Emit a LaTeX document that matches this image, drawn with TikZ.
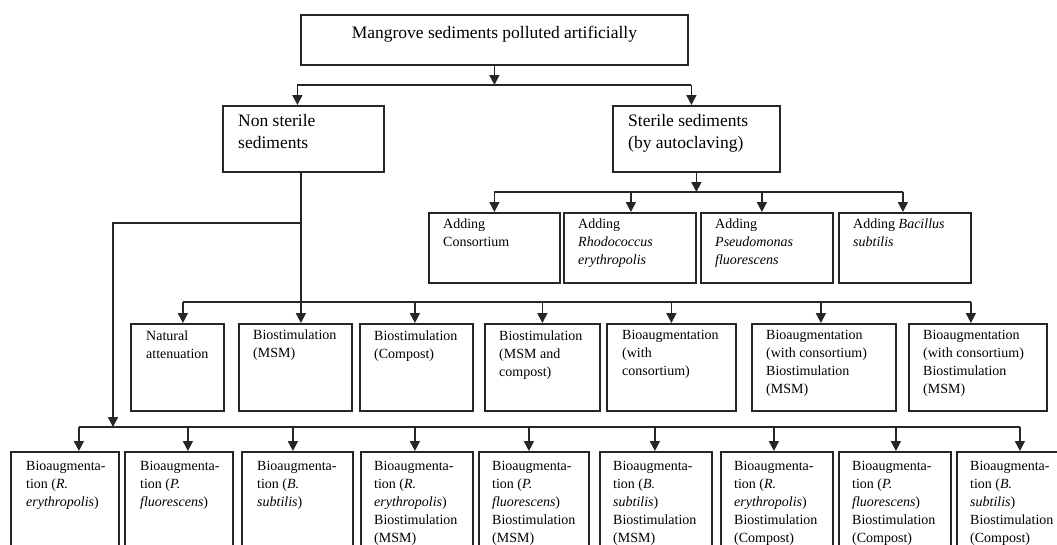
\documentclass[tikz,border=0pt]{standalone}
\usepackage{fontspec}
\setmainfont{Liberation Serif}
\usetikzlibrary{arrows.meta}
\tikzset{
  box/.style={draw=black!85, line width=1.8pt, rectangle, inner sep=0pt, anchor=north west},
  lbl/.style={anchor=north west, inner sep=0pt, align=left, font=\fontsize{14}{18}\selectfont, execute at begin node=\strut},
  big/.style={anchor=north west, inner sep=0pt, align=left, font=\fontsize{17.5}{22}\selectfont, execute at begin node=\strut},
  con/.style={draw=black!85, line width=1.6pt},
  arr/.style={con, -{Triangle[width=10pt,length=10pt]}},
}
\newcommand\mkbox[5]{\node[box, minimum width={#4-#2}, minimum height={#5-#3}] (#1) at (#2,#3) {};}
\begin{document}
\begin{tikzpicture}[x=1pt,y=-1pt]
\clip (0,0) rectangle (1057,544);
\fill[white] (0,0) rectangle (1057,544);
% boxes
\mkbox{top}{300}{14}{687}{64}
\mkbox{ns}{222}{105}{383}{171}
\mkbox{st}{612}{105}{779}{171}
\mkbox{a1}{428}{212}{559}{282}
\mkbox{a2}{563}{212}{695}{282}
\mkbox{a3}{700}{212}{832}{282}
\mkbox{a4}{838}{212}{970}{282}
\mkbox{m1}{130}{323}{223}{410}
\mkbox{m2}{238}{323}{351}{410}
\mkbox{m3}{359}{323}{472}{410}
\mkbox{m4}{484}{323}{599}{410}
\mkbox{m5}{606}{323}{735}{410}
\mkbox{m6}{751}{323}{895}{410}
\mkbox{m7}{908}{323}{1046}{410}
\mkbox{b1}{10}{451}{118}{575}
\mkbox{b2}{124}{451}{232}{575}
\mkbox{b3}{241}{451}{352}{575}
\mkbox{b4}{360}{451}{472}{575}
\mkbox{b5}{478}{451}{588}{575}
\mkbox{b6}{599}{451}{711}{575}
\mkbox{b7}{720}{451}{832}{575}
\mkbox{b8}{838}{451}{950}{575}
\mkbox{b9}{956}{451}{1066}{575}
% texts
\node[anchor=base, inner sep=0pt, font=\fontsize{17.5}{22}\selectfont] (ttop) at ([yshift=-24pt]top.north) {Mangrove sediments polluted artificially};
\node[big] (tns) at ([shift={(16,9.6)}]ns.north west) {Non sterile\\sediments};
\node[big] (tst) at ([shift={(16,9)}]st.north west) {Sterile sediments\\(by autoclaving)};
\node[lbl] (ta1) at ([shift={(15,7)}]a1.north west) {Adding\\Consortium};
\node[lbl] (ta2) at ([shift={(15,7)}]a2.north west) {Adding\\\textit{Rhodococcus}\\\textit{erythropolis}};
\node[lbl] (ta3) at ([shift={(15,7)}]a3.north west) {Adding\\\textit{Pseudomonas}\\\textit{fluorescens}};
\node[lbl] (ta4) at ([shift={(15,7)}]a4.north west) {Adding \textit{Bacillus}\\\textit{subtilis}};
\node[lbl] (tm1) at ([shift={(16,7.4)}]m1.north west) {Natural\\attenuation};
\node[lbl] (tm2) at ([shift={(15,6.4)}]m2.north west) {Biostimulation\\(MSM)};
\node[lbl] (tm3) at ([shift={(15,7.4)}]m3.north west) {Biostimulation\\(Compost)};
\node[lbl] (tm4) at ([shift={(15,7.4)}]m4.north west) {Biostimulation\\(MSM and\\compost)};
\node[lbl] (tm5) at ([shift={(16,7.4)}]m5.north west) {Bioaugmentation\\(with\\consortium)};
\node[lbl] (tm6) at ([shift={(15,7.4)}]m6.north west) {Bioaugmentation\\(with consortium)\\Biostimulation\\(MSM)};
\node[lbl] (tm7) at ([shift={(15,7.4)}]m7.north west) {Bioaugmentation\\(with consortium)\\Biostimulation\\(MSM)};
\node[lbl] (tb1) at ([shift={(16,10)}]b1.north west) {Bioaugmenta-\\tion (\textit{R.}\\\textit{erythropolis})};
\node[lbl] (tb2) at ([shift={(16,10)}]b2.north west) {Bioaugmenta-\\tion (\textit{P.}\\\textit{fluorescens})};
\node[lbl] (tb3) at ([shift={(16,10)}]b3.north west) {Bioaugmenta-\\tion (\textit{B.}\\\textit{subtilis})};
\node[lbl] (tb4) at ([shift={(14,10)}]b4.north west) {Bioaugmenta-\\tion (\textit{R.}\\\textit{erythropolis})\\Biostimulation\\(MSM)};
\node[lbl] (tb5) at ([shift={(14,10)}]b5.north west) {Bioaugmenta-\\tion (\textit{P.}\\\textit{fluorescens})\\Biostimulation\\(MSM)};
\node[lbl] (tb6) at ([shift={(14,10)}]b6.north west) {Bioaugmenta-\\tion (\textit{B.}\\\textit{subtilis})\\Biostimulation\\(MSM)};
\node[lbl] (tb7) at ([shift={(14,10)}]b7.north west) {Bioaugmenta-\\tion (\textit{R.}\\\textit{erythropolis})\\Biostimulation\\(Compost)};
\node[lbl] (tb8) at ([shift={(14,10)}]b8.north west) {Bioaugmenta-\\tion (\textit{P.}\\\textit{fluorescens})\\Biostimulation\\(Compost)};
\node[lbl] (tb9) at ([shift={(14,10)}]b9.north west) {Bioaugmenta-\\tion (\textit{B.}\\\textit{subtilis})\\Biostimulation\\(Compost)};
% bus levels
\coordinate (bus1) at (0,85);
\coordinate (bus2) at (0,192);
\coordinate (bus3) at (0,302);
\coordinate (bus4) at (0,223);
\coordinate (bus5) at (0,427);
\coordinate (k) at (113,223);
% arrow entry points
\coordinate (nsA) at ([xshift=-6pt]ns.north);
\coordinate (nsB) at ([xshift=-2.5pt]ns.south);
\coordinate (stA) at ([xshift=-5pt]st.north);
\coordinate (a1A) at (a1.north);
\coordinate (a2A) at ([xshift=1pt]a2.north);
\coordinate (a3A) at ([xshift=-5pt]a3.north);
\coordinate (a4A) at ([xshift=-2pt]a4.north);
\coordinate (m1A) at ([xshift=5.5pt]m1.north);
\coordinate (m3A) at ([xshift=-1.5pt]m3.north);
\coordinate (m4A) at (m4.north);
\coordinate (m5A) at (m5.north);
\coordinate (m6A) at ([xshift=-3pt]m6.north);
\coordinate (m7A) at ([xshift=-7pt]m7.north);
\coordinate (b1A) at ([xshift=14pt]b1.north);
\coordinate (b2A) at ([xshift=9pt]b2.north);
\coordinate (b3A) at ([xshift=-4.5pt]b3.north);
\coordinate (b4A) at ([xshift=-2pt]b4.north);
\coordinate (b5A) at ([xshift=-5pt]b5.north);
\coordinate (b6A) at ([xshift=-1pt]b6.north);
\coordinate (b7A) at ([xshift=-3pt]b7.north);
\coordinate (b8A) at ([xshift=1pt]b8.north);
\coordinate (b9A) at ([xshift=8pt]b9.north);
% level 1
\draw[arr] (top.south) -- (top.south |- bus1);
\draw[con] (nsA |- bus1) -- (stA |- bus1);
\draw[arr] (nsA |- bus1) -- (nsA);
\draw[arr] (stA |- bus1) -- (stA);
% sterile branch
\draw[arr] (st.south) -- (st.south |- bus2);
\draw[con] (a1A |- bus2) -- (a4A |- bus2);
\foreach \n in {a1A,a2A,a3A,a4A} \draw[arr] (\n |- bus2) -- (\n);
% non sterile branch
\draw[arr] (nsB) -- (nsB |- m2.north);
\draw[con] (m1A |- bus3) -- (m7A |- bus3);
\foreach \n in {m1A,m3A,m4A,m5A,m6A,m7A} \draw[arr] (\n |- bus3) -- (\n);
\draw[arr] (nsB |- bus4) -- (k) -- (k |- bus5);
\draw[con] (b1A |- bus5) -- (b9A |- bus5);
\foreach \n in {b1A,b2A,b3A,b4A,b5A,b6A,b7A,b8A,b9A} \draw[arr] (\n |- bus5) -- (\n);
\end{tikzpicture}
\end{document}
